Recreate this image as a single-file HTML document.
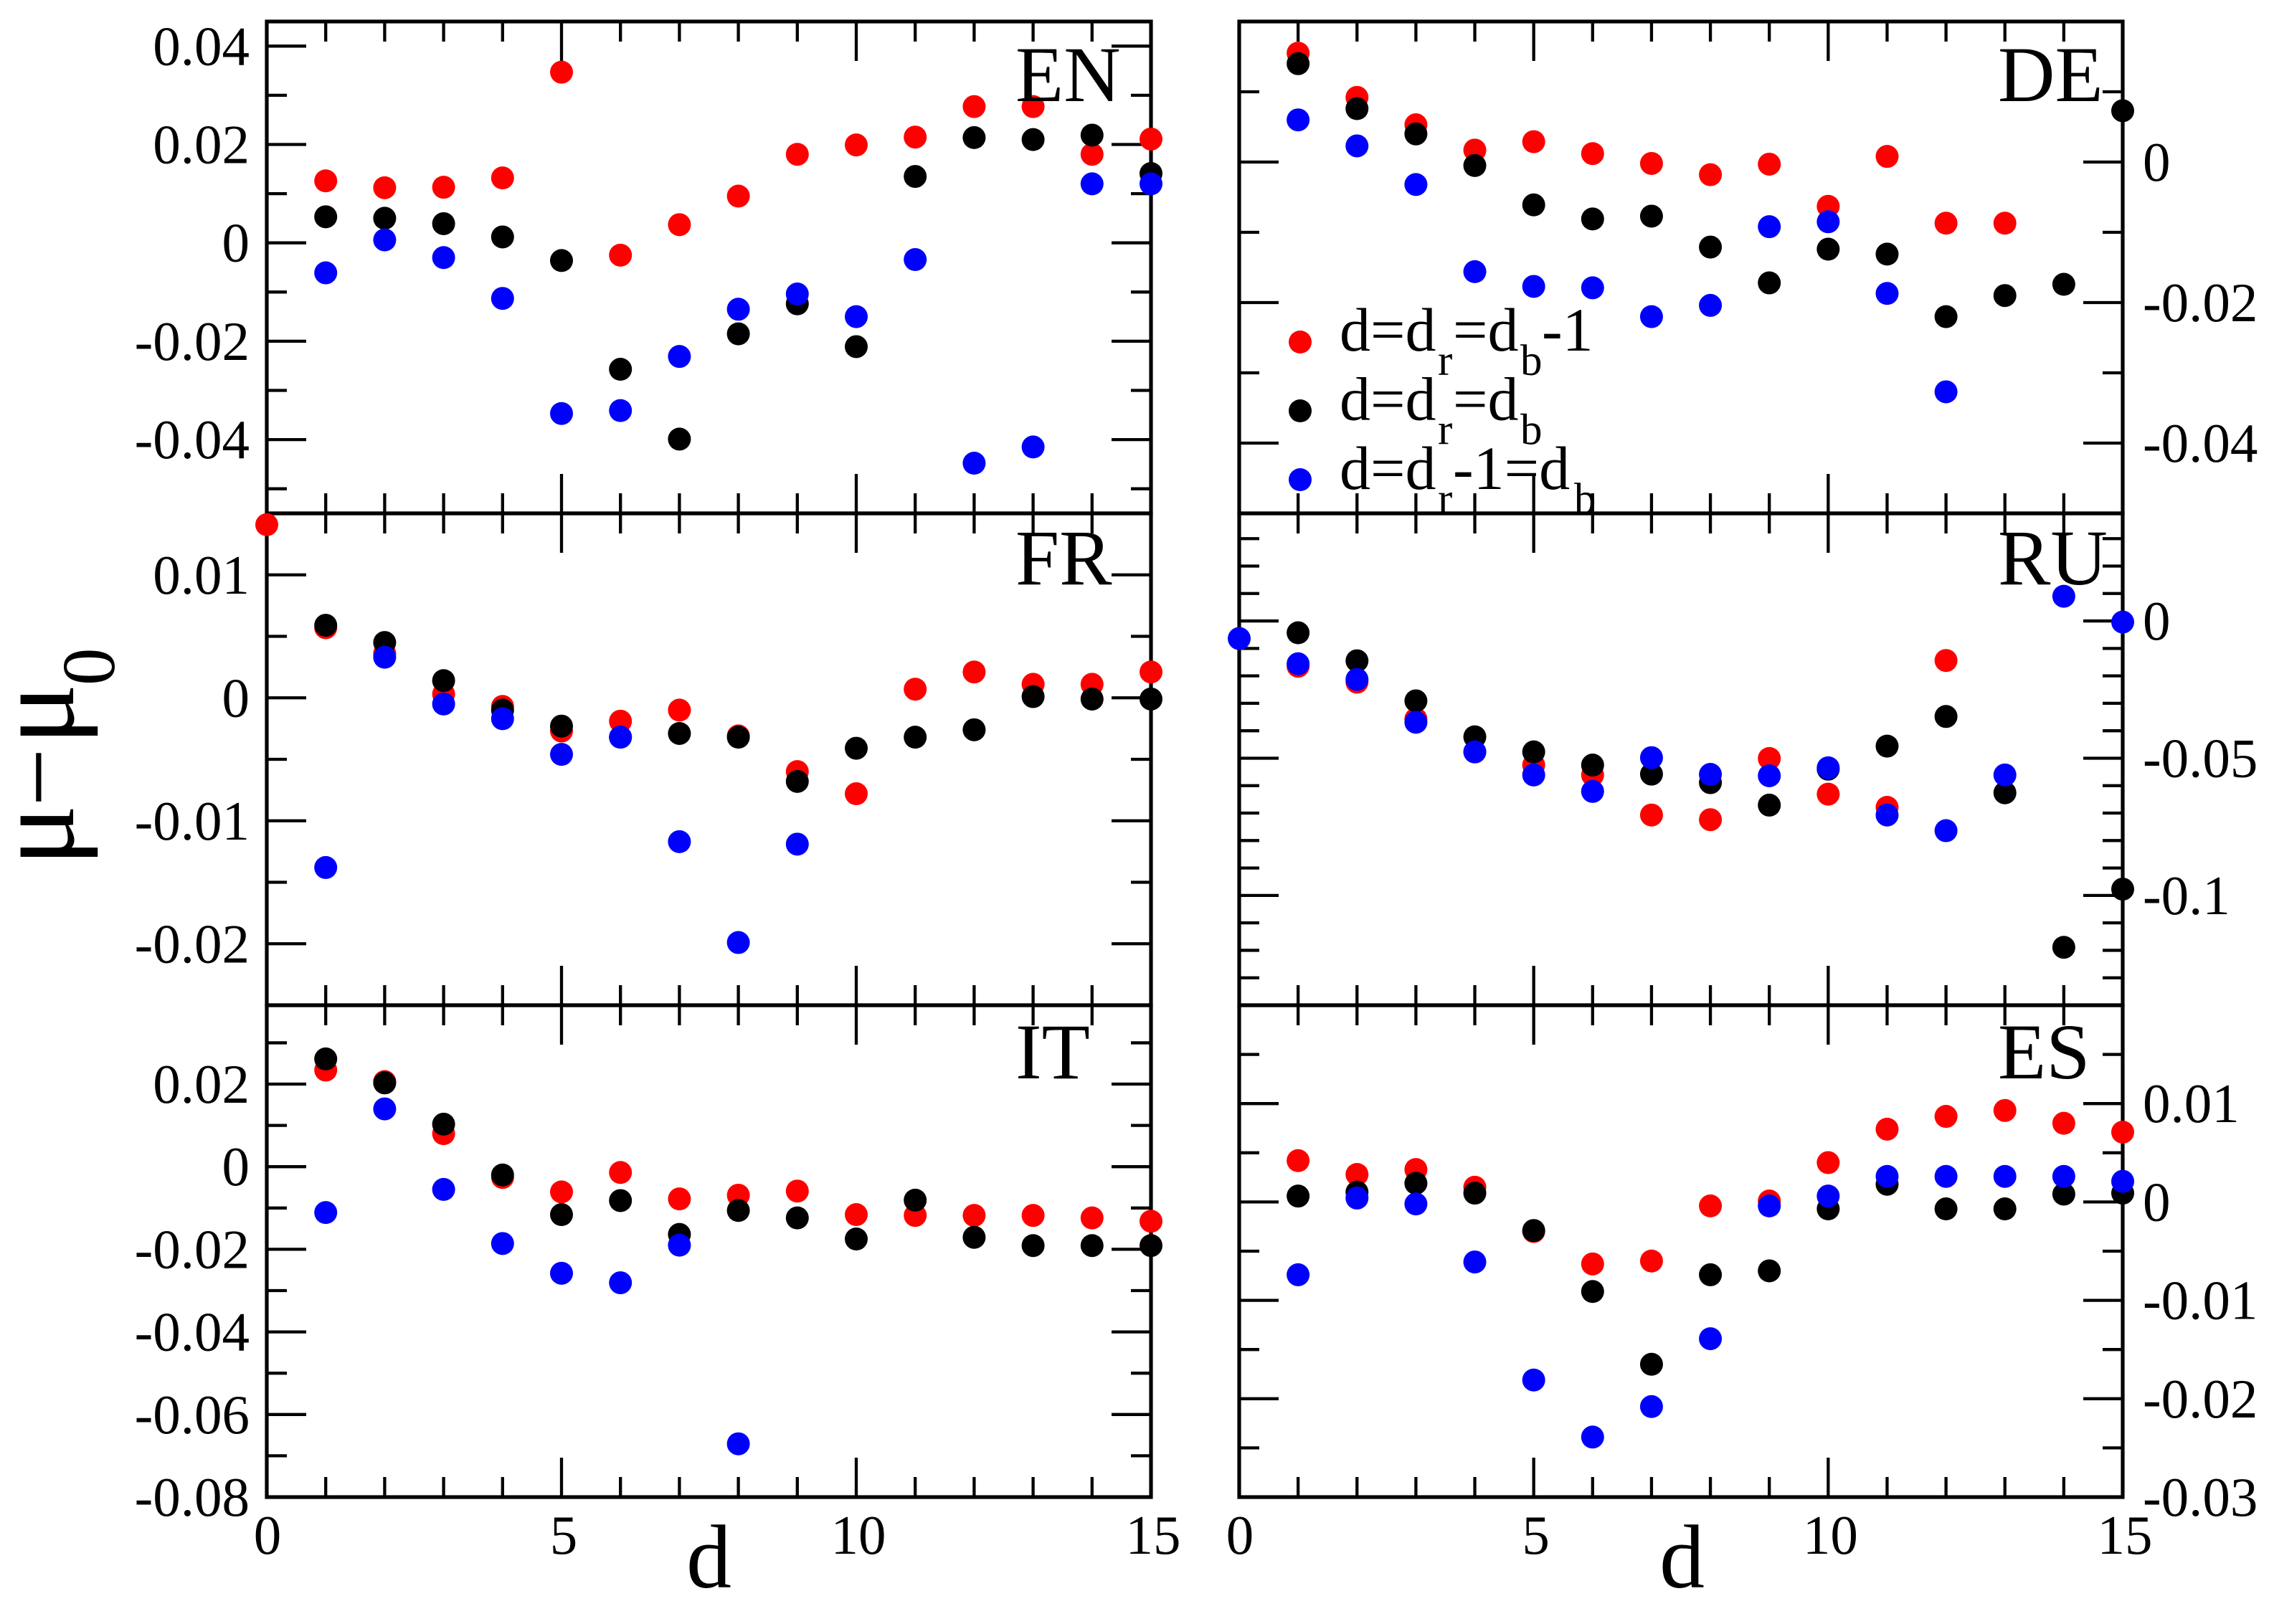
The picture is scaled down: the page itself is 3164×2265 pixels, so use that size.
<!DOCTYPE html>
<html lang="en">
<head>
<meta charset="utf-8">
<title>mu - mu0 versus d</title>
<style>
html,body{margin:0;padding:0;background:#fff;}
svg{display:block;}
text{font-family:"Liberation Serif","Times New Roman",serif;fill:#000;}
</style>
</head>
<body>
<svg id="chart" xmlns="http://www.w3.org/2000/svg" width="3164" height="2265" viewBox="0 0 3164 2265">
<rect x="0" y="0" width="3164" height="2265" fill="#fff"/>
<g id="frames"></g>
<text transform="translate(102,1208) rotate(-90)"><tspan x="0" y="0" font-size="160">μ</tspan><tspan x="83" y="0" font-size="145">−</tspan><tspan x="169" y="0" font-size="160">μ</tspan><tspan x="252" y="57" font-size="105">0</tspan></text>
<text x="957" y="2214" font-size="126">d</text>
<text x="2314" y="2214" font-size="126">d</text>
<defs><clipPath id="legendClip"><rect x="1740" y="400" width="600" height="316"/></clipPath></defs>
<g id="legend" clip-path="url(#legendClip)" font-size="86">
<g><text x="1868" y="489">d=d<tspan x="2005" y="523" font-size="61">r</tspan><tspan x="2026" y="489">=d</tspan><tspan x="2120" y="523" font-size="61">b</tspan><tspan x="2150" y="489">-1</tspan></text></g>
<g><text x="1868" y="585.5">d=d<tspan x="2005" y="619.5" font-size="61">r</tspan><tspan x="2026" y="585.5">=d</tspan><tspan x="2120" y="619.5" font-size="61">b</tspan></text></g>
<g><text x="1868" y="682">d=d<tspan x="2005" y="716" font-size="61">r</tspan><tspan x="2026" y="682">-1=d</tspan><tspan x="2195" y="716" font-size="61">b</tspan></text></g>
</g>
<g id="marks"></g>
<g>
<circle cx="1813" cy="477" r="16" fill="#ff0000"/>
<circle cx="1813" cy="573" r="16" fill="#000000"/>
<circle cx="1813" cy="669" r="16" fill="#0000ff"/>
</g>
<g id="titles" font-size="110">
<text x="1416" y="141">EN</text>
<text x="2786" y="141">DE</text>
<text x="1416" y="815">FR</text>
<text x="2786" y="815">RU</text>
<text x="1416" y="1504">IT</text>
<text x="2786" y="1504">ES</text>
</g>
</svg>
<script>
// Shared x axis
const xValues = [0,1,2,3,4,5,6,7,8,9,10,11,12,13,14,15];
const xTickLabels = ["0","5","10","15"];
const xMajorTicks = [5,10];
const xMinorTicks = [1,2,3,4,6,7,8,9,11,12,13,14];

// EN
const enRed = [-0.0573,0.0126,0.0112,0.0113,0.0132,0.0347,-0.0025,0.0037,0.0095,0.0180,0.0199,0.0215,0.0277,0.0277,0.0180,0.0211];
const enBlack = [null,0.0053,0.0050,0.0039,0.0012,-0.0036,-0.0257,-0.0399,-0.0185,-0.0124,-0.0211,0.0135,0.0214,0.0210,0.0219,0.0141];
const enBlue = [null,-0.0061,0.0006,-0.0030,-0.0113,-0.0347,-0.0341,-0.0231,-0.0135,-0.0104,-0.0150,-0.0034,-0.0448,-0.0415,0.0120,0.0120];
const enMajor = [0.04,0.02,0,-0.02,-0.04];
const enMinor = [0.03,0.01,-0.01,-0.03,-0.05];
const enLabels = ["0.04","0.02","0","-0.02","-0.04"];

// DE
const deRed = [null,0.0155,0.0092,0.0053,0.0017,0.0029,0.0012,-0.0002,-0.0018,-0.0003,-0.0063,0.0008,-0.0087,-0.0087,null,null];
const deBlack = [null,0.0140,0.0076,0.0040,-0.0005,-0.0061,-0.0081,-0.0077,-0.0121,-0.0172,-0.0124,-0.0131,-0.0220,-0.0190,-0.0174,0.0073];
const deBlue = [null,0.0060,0.0023,-0.0032,-0.0156,-0.0177,-0.0179,-0.0220,-0.0204,-0.0092,-0.0085,-0.0187,-0.0327,null,null,null];
const deMajor = [0,-0.02,-0.04];
const deMinor = [0.01,-0.01,-0.03];
const deLabels = ["0","-0.02","-0.04"];

// FR
const frRed = [null,0.0057,0.0036,0.0003,-0.0007,-0.0027,-0.0019,-0.0010,-0.0031,-0.0060,-0.0078,0.0007,0.0021,0.0011,0.0011,0.0021];
const frBlack = [null,0.0059,0.0045,0.0014,-0.0010,-0.0023,-0.0032,-0.0029,-0.0032,-0.0068,-0.0041,-0.0032,-0.0026,0.0001,-0.0001,-0.0001];
const frBlue = [null,-0.0138,0.0033,-0.0005,-0.0017,-0.0046,-0.0032,-0.0117,-0.0199,-0.0119,null,null,null,null,null,null];
const frMajor = [0.01,0,-0.01,-0.02];
const frMinor = [0.005,-0.005,-0.015];
const frLabels = ["0.01","0","-0.01","-0.02"];

// RU
const ruRed = [null,-0.0165,-0.0223,-0.0357,-0.0477,-0.0525,-0.0561,-0.0707,-0.0724,-0.0501,-0.0631,-0.0679,-0.0144,null,null,null];
const ruBlack = [null,-0.0043,-0.0145,-0.0291,-0.0422,-0.0477,-0.0525,-0.0558,-0.0589,-0.0671,-0.0540,-0.0456,-0.0348,-0.0626,-0.1189,-0.0977];
const ruBlue = [-0.0064,-0.0156,-0.0213,-0.0369,-0.0477,-0.0561,-0.0621,-0.0498,-0.0559,-0.0564,-0.0535,-0.0707,-0.0764,-0.0561,0.0090,-0.0004];
const ruMajor = [0,-0.05,-0.1];
const ruMinor = [0.03,0.02,0.01,-0.01,-0.02,-0.03,-0.04,-0.06,-0.07,-0.08,-0.09,-0.11,-0.12,-0.13];
const ruLabels = ["0","-0.05","-0.1"];

// IT
const itRed = [null,0.0234,0.0206,0.0080,-0.0026,-0.0061,-0.0014,-0.0078,-0.0069,-0.0059,-0.0116,-0.0118,-0.0118,-0.0118,-0.0124,-0.0132];
const itBlack = [null,0.0261,0.0203,0.0103,-0.0020,-0.0116,-0.0082,-0.0164,-0.0106,-0.0124,-0.0175,-0.0081,-0.0171,-0.0191,-0.0191,-0.0191];
const itBlue = [null,-0.0111,0.0140,-0.0055,-0.0186,-0.0258,-0.0281,-0.0190,-0.0671,null,null,null,null,null,null,null];
const itMajor = [0.02,0,-0.02,-0.04,-0.06];
const itMinor = [0.03,0.01,-0.01,-0.03,-0.05,-0.07];
const itLabels = ["0.02","0","-0.02","-0.04","-0.06","-0.08"];
const itLabelValues = [0.02,0,-0.02,-0.04,-0.06,-0.08];

// ES
const esRed = [null,0.0042,0.0028,0.0033,0.0015,-0.0030,-0.0063,-0.0060,-0.0004,0.0001,0.0040,0.0074,0.0087,0.0093,0.0080,0.0071];
const esBlack = [null,0.0006,0.0010,0.0019,0.0009,-0.0029,-0.0091,-0.0165,-0.0074,-0.0070,-0.0007,0.0018,-0.0007,-0.0007,0.0008,0.0009];
const esBlue = [null,-0.0074,0.0004,-0.0002,-0.0061,-0.0181,-0.0239,-0.0208,-0.0139,-0.0004,0.0006,0.0026,0.0026,0.0026,0.0026,0.0021];
const esMajor = [0.01,0,-0.01,-0.02];
const esMinor = [0.015,0.005,-0.005,-0.015,-0.025];
const esLabels = ["0.01","0","-0.01","-0.02","-0.03"];
const esLabelValues = [0.01,0,-0.01,-0.02,-0.03];

const NS = "http://www.w3.org/2000/svg";
const COL_LEFT = [372, 1605];
const COL_RIGHT = [1728, 2960];
const ROW_Y = [30, 716, 1402, 2088];
const MAJOR_LEN = 55;
const MINOR_LEN = 28;
const SERIES_COLORS = ["#ff0000", "#000000", "#0000ff"];
const SERIES_NAMES = ["red", "black", "blue"];
const framesLayer = document.getElementById("frames");
const marksLayer = document.getElementById("marks");

const panels = [
  {id:"fr", col:COL_LEFT, row:1, yMax:0.015, yMin:-0.025, series:[frRed,frBlack,frBlue], major:frMajor, minor:frMinor, labels:frLabels, labelValues:frMajor, side:"left", xLabels:false},
  {id:"en", col:COL_LEFT, row:0, yMax:0.045, yMin:-0.055, series:[enRed,enBlack,enBlue], major:enMajor, minor:enMinor, labels:enLabels, labelValues:enMajor, side:"left", xLabels:false},
  {id:"de", col:COL_RIGHT, row:0, yMax:0.02, yMin:-0.05, series:[deRed,deBlack,deBlue], major:deMajor, minor:deMinor, labels:deLabels, labelValues:deMajor, side:"right", xLabels:false},
  {id:"ru", col:COL_RIGHT, row:1, yMax:0.0392, yMin:-0.14, series:[ruRed,ruBlack,ruBlue], major:ruMajor, minor:ruMinor, labels:ruLabels, labelValues:ruMajor, side:"right", xLabels:false},
  {id:"it", col:COL_LEFT, row:2, yMax:0.0391, yMin:-0.08, series:[itRed,itBlack,itBlue], major:itMajor, minor:itMinor, labels:itLabels, labelValues:itLabelValues, side:"left", xLabels:true},
  {id:"es", col:COL_RIGHT, row:2, yMax:0.02, yMin:-0.03, series:[esRed,esBlack,esBlue], major:esMajor, minor:esMinor, labels:esLabels, labelValues:esLabelValues, side:"right", xLabels:true}
];

function xScale(panel, d) {
  const l = panel.col[0], r = panel.col[1];
  return l + (d - 0) / (15 - 0) * (r - l);
}
function yScale(panel, v) {
  const t = ROW_Y[panel.row], b = ROW_Y[panel.row + 1];
  return t + (panel.yMax - v) / (panel.yMax - panel.yMin) * (b - t);
}
function drawLine(parent, name, x1, y1, x2, y2, w) {
  const ln = document.createElementNS(NS, "line");
  
  
  ln.setAttribute("x1", x1);
  ln.setAttribute("y1", y1);
  ln.setAttribute("x2", x2);
  ln.setAttribute("y2", y2);
  ln.setAttribute("stroke", "#000");
  ln.setAttribute("stroke-width", w);
  parent.appendChild(ln);
}
function drawLabel(parent, name, x, y, anchor, str) {
  const t = document.createElementNS(NS, "text");
  
  
  t.setAttribute("x", x);
  t.setAttribute("y", y);
  t.setAttribute("font-size", "77");
  t.setAttribute("text-anchor", anchor);
  t.textContent = str;
  parent.appendChild(t);
}
function drawAxes(panel) {
  const g = document.createElementNS(NS, "g");
  
  
  framesLayer.appendChild(g);
  const l = panel.col[0], r = panel.col[1], t = ROW_Y[panel.row], b = ROW_Y[panel.row + 1];
  const rect = document.createElementNS(NS, "rect");
  
  
  rect.setAttribute("x", l);
  rect.setAttribute("y", t);
  rect.setAttribute("width", r - l);
  rect.setAttribute("height", b - t);
  rect.setAttribute("fill", "none");
  rect.setAttribute("stroke", "#000");
  rect.setAttribute("stroke-width", "5.2");
  g.appendChild(rect);
  xMajorTicks.forEach(function (d) {
    const x = xScale(panel, d);
    drawLine(g, panel.id + '-x-major-tick-top', x, t, x, t + MAJOR_LEN, 4.3);
    drawLine(g, panel.id + '-x-major-tick-bottom', x, b, x, b - MAJOR_LEN, 4.3);
  });
  xMinorTicks.forEach(function (d) {
    const x = xScale(panel, d);
    drawLine(g, panel.id + '-x-minor-tick-top', x, t, x, t + MINOR_LEN, 4.3);
    drawLine(g, panel.id + '-x-minor-tick-bottom', x, b, x, b - MINOR_LEN, 4.3);
  });
  panel.major.forEach(function (v) {
    const y = yScale(panel, v);
    drawLine(g, panel.id + '-y-major-tick-left', l, y, l + MAJOR_LEN, y, 4.3);
    drawLine(g, panel.id + '-y-major-tick-right', r, y, r - MAJOR_LEN, y, 4.3);
  });
  panel.minor.forEach(function (v) {
    const y = yScale(panel, v);
    drawLine(g, panel.id + '-y-minor-tick-left', l, y, l + MINOR_LEN, y, 4.3);
    drawLine(g, panel.id + '-y-minor-tick-right', r, y, r - MINOR_LEN, y, 4.3);
  });
  panel.labels.forEach(function (str, i) {
    const y = yScale(panel, panel.labelValues[i]) + 26;
    if (panel.side === "left") {
      drawLabel(g, panel.id + '-y-tick-label', 348, y, "end", str);
    } else {
      drawLabel(g, panel.id + '-y-tick-label', 2988, y, "start", str);
    }
  });
  if (panel.xLabels) {
    [0, 5, 10, 15].forEach(function (d, i) {
      drawLabel(g, panel.id + '-x-tick-label', xScale(panel, d) + (d === 0 ? 1 : 3), 2167, "middle", xTickLabels[i]);
    });
  }
}
function drawPoints(panel) {
  panel.series.forEach(function (values, s) {
    const g = document.createElementNS(NS, "g");
    
    
    marksLayer.appendChild(g);
    values.forEach(function (v, i) {
      if (v === null) return;
      const c = document.createElementNS(NS, "circle");
      
      
      c.setAttribute("cx", xScale(panel, xValues[i]));
      c.setAttribute("cy", yScale(panel, v));
      c.setAttribute("r", "16");
      c.setAttribute("fill", SERIES_COLORS[s]);
      g.appendChild(c);
    });
  });
}
panels.forEach(drawAxes);
panels.forEach(drawPoints);
</script>
</body>
</html>
